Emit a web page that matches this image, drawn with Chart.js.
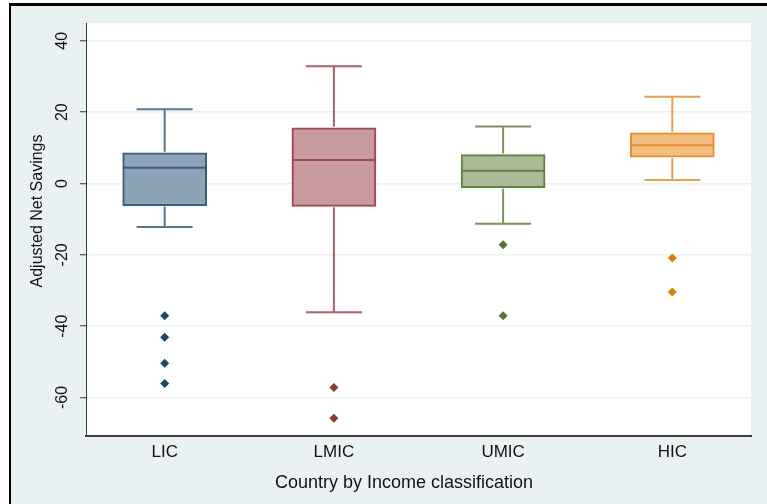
<!DOCTYPE html>
<html>
<head>
<meta charset="utf-8">
<title>Adjusted Net Savings by income group</title>
<script src="https://cdn.jsdelivr.net/npm/chart.js@4.4.1/dist/chart.umd.min.js"></script>
<style>
  html, body { margin: 0; padding: 0; background: #fff; }
  #wrap { width: 767px; height: 504px; }
</style>
</head>
<body>
<div id="wrap"><canvas id="boxChart" width="767" height="504"></canvas></div>
<script>
// groups on the x axis
const categories = ['LIC', 'LMIC', 'UMIC', 'HIC'];

// box statistics
const lowerWhisker = [-12.2, -36.1, -11.3, 1.0];
const q1 = [-6.2, -6.4, -1.2, 7.4];
const medians = [4.4, 6.6, 3.6, 10.7];
const q3 = [8.6, 15.6, 8.1, 14.2];
const upperWhisker = [20.8, 32.9, 16.0, 24.3];

// outside values per group
const outliersLIC = [-37.1, -43.1, -50.4, -56.1];
const outliersLMIC = [-57.2, -65.8];
const outliersUMIC = [-17.2, -37.1];
const outliersHIC = [-20.9, -30.4];

const yTicks = [-60, -40, -20, 0, 20, 40];

// stata s2color look
const markColors = ['rgb(26,71,111)', 'rgb(144,53,59)', 'rgb(85,117,47)', 'rgb(227,126,0)'];
const boxLines = ['rgb(58,92,128)', 'rgb(158,72,80)', 'rgb(98,128,64)', 'rgb(232,142,40)'];
const whiskerLines = ['rgba(58,92,128,0.85)', 'rgba(158,72,80,0.85)', 'rgba(98,128,64,0.85)', 'rgba(232,142,40,0.85)'];
const boxFills = ['rgb(141,163,184)', 'rgb(200,154,157)', 'rgb(170,186,151)', 'rgb(241,190,128)'];
const FONT = '"Liberation Sans", Arial, sans-serif';

const outlierSets = [outliersLIC, outliersLMIC, outliersUMIC, outliersHIC];

// frame, whiskers, medians and the rotated texts
const boxPlotPlugin = {
    id: 'boxPlot',
    beforeDraw(chart) {
        const { ctx, chartArea } = chart;
        ctx.save();
        ctx.fillStyle = '#fff';
        ctx.fillRect(0, 0, chart.width, chart.height);
        ctx.fillStyle = '#000';
        ctx.fillRect(9, 3, chart.width - 9, 3);
        ctx.fillRect(9, 3, 2, chart.height - 3);
        ctx.fillStyle = 'rgb(234,241,243)';
        ctx.fillRect(11, 6, chart.width - 11, chart.height - 6);
        ctx.fillStyle = '#fff';
        ctx.fillRect(chartArea.left, chartArea.top, chartArea.right - chartArea.left, chartArea.bottom - chartArea.top);
        ctx.restore();
    },
    afterDatasetsDraw(chart) {
        const { ctx, scales: { x, y } } = chart;
        categories.forEach((c, i) => {
            const cx = x.getPixelForValue(i + 1);
            const yHi = y.getPixelForValue(upperWhisker[i]);
            const yLo = y.getPixelForValue(lowerWhisker[i]);
            ctx.save();
            ctx.strokeStyle = whiskerLines[i];
            ctx.lineWidth = 2;
            ctx.beginPath();
            ctx.moveTo(cx, y.getPixelForValue(q3[i]) - 1);
            ctx.lineTo(cx, yHi);
            ctx.moveTo(cx, y.getPixelForValue(q1[i]) + 1);
            ctx.lineTo(cx, yLo);
            ctx.moveTo(cx - 28, yHi);
            ctx.lineTo(cx + 28, yHi);
            ctx.moveTo(cx - 28, yLo);
            ctx.lineTo(cx + 28, yLo);
            ctx.stroke();

            const ym = y.getPixelForValue(medians[i]);
            ctx.strokeStyle = boxLines[i];
            ctx.lineWidth = 2;
            ctx.beginPath();
            ctx.moveTo(cx - 41, ym);
            ctx.lineTo(cx + 41, ym);
            ctx.stroke();
            ctx.restore();
        });
    },
    afterDraw(chart) {
        const { ctx, scales: { y } } = chart;
        ctx.save();
        ctx.fillStyle = '#111';
        ctx.textAlign = 'center';
        ctx.textBaseline = 'middle';
        // y tick labels, vertical like stata
        ctx.font = '16px ' + FONT;
        yTicks.forEach(v => {
            ctx.save();
            ctx.translate(62, y.getPixelForValue(v));
            ctx.rotate(-Math.PI / 2);
            ctx.fillText(String(v), 0, 1);
            ctx.restore();
        });
        // axis titles
        ctx.save();
        ctx.translate(38, 211);
        ctx.rotate(-Math.PI / 2);
        ctx.font = '16px ' + FONT;
        ctx.fillText('Adjusted Net Savings', 0, 0);
        ctx.restore();
        ctx.font = '18px ' + FONT;
        ctx.fillText('Country by Income classification', 404, 483);
        ctx.restore();
    }
};

const datasets = [
    {
        type: 'bar',
        label: 'Interquartile range',
        data: categories.map((c, i) => ({ x: i + 1, y: [q1[i], q3[i]] })),
        backgroundColor: boxFills,
        borderColor: boxLines,
        borderWidth: 2,
        borderSkipped: false,
        barThickness: 84,
        order: 2
    }
].concat(outlierSets.map((vals, i) => ({
    type: 'scatter',
    label: categories[i] + ' outside values',
    data: vals.map(v => ({ x: i + 1, y: v })),
    pointStyle: 'rectRot',
    radius: 4.5,
    hoverRadius: 4.5,
    backgroundColor: markColors[i],
    borderColor: markColors[i],
    borderWidth: 0,
    order: 1
})));

new Chart(document.getElementById('boxChart'), {
    type: 'bar',
    data: { datasets: datasets },
    options: {
        responsive: false,
        animation: false,
        layout: { padding: { top: 23, right: 16, bottom: 0, left: 0 } },
        plugins: {
            legend: { display: false },
            tooltip: { enabled: false }
        },
        scales: {
            x: {
                type: 'linear',
                min: 0.535,
                max: 4.465,
                offset: false,
                afterBuildTicks: scale => { scale.ticks = categories.map((c, i) => ({ value: i + 1 })); },
                afterFit: scale => { scale.height = 68; },
                grid: { display: true, drawOnChartArea: false, drawTicks: false },
                border: { display: true, color: '#3a3a3a', width: 2 },
                ticks: {
                    padding: 6,
                    color: '#111',
                    font: { family: FONT, size: 17 },
                    autoSkip: false,
                    maxRotation: 0,
                    callback: v => categories[v - 1]
                }
            },
            y: {
                min: -70.8,
                max: 45,
                afterBuildTicks: scale => { scale.ticks = yTicks.map(v => ({ value: v })); },
                afterFit: scale => { scale.width = 86; },
                grid: {
                    color: 'rgb(234,241,243)',
                    lineWidth: 1.5,
                    tickColor: '#333',
                    tickLength: 6,
                    tickWidth: 1
                },
                border: { display: true, color: '#3a3a3a', width: 1 },
                ticks: { display: false }
            }
        }
    },
    plugins: [boxPlotPlugin]
});
</script>
</body>
</html>
